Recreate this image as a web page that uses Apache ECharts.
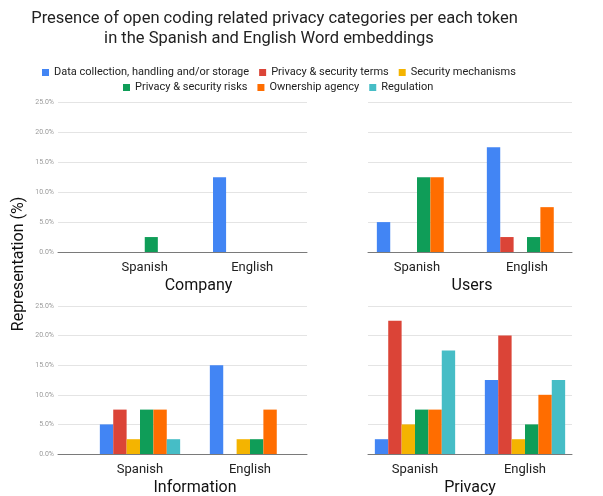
<!DOCTYPE html>
<html>
<head>
<meta charset="utf-8">
<script src="https://cdn.jsdelivr.net/npm/echarts@6/dist/echarts.min.js"></script>
<style>html,body{margin:0;padding:0;background:#fff}#c{width:603px;height:496px}</style>
</head>
<body>
<div id="c"></div>
<script>
const titleLines = ['Presence of open coding related privacy categories per each token', 'in the Spanish and English Word embeddings'];
const categories = ['Spanish', 'English'];
const panelNames = ['Company', 'Users', 'Information', 'Privacy'];
const seriesNames = ['Data collection, handling and/or storage', 'Privacy & security terms', 'Security mechanisms', 'Privacy & security risks', 'Ownership agency', 'Regulation'];
const seriesColors = ['#4285F4', '#DB4437', '#F4B400', '#0F9D58', '#FF6D00', '#46BDC6'];
const yTicks = [0, 5, 10, 15, 20, 25];
// values per series: [Spanish, English]
const companyValues = [[0, 12.5], [0, 0], [0, 0], [2.5, 0], [0, 0], [0, 0]];
const usersValues = [[5, 17.5], [0, 2.5], [0, 0], [12.5, 2.5], [12.5, 7.5], [0, 0]];
const informationValues = [[5, 15], [7.5, 0], [2.5, 2.5], [7.5, 2.5], [7.5, 7.5], [2.5, 0]];
const privacyValues = [[2.5, 12.5], [22.5, 20], [5, 2.5], [7.5, 5], [7.5, 10], [17.5, 12.5]];
const panelValues = [companyValues, usersValues, informationValues, privacyValues];

const FONT = 'Roboto';
const bgGrids = [
  {left: 58, top: 102.5, width: 249, height: 149.5},
  {left: 368, top: 102.5, width: 204, height: 149.5},
  {left: 58, top: 306, width: 249, height: 148},
  {left: 368, top: 306, width: 204, height: 148}
];
const dataGrids = [
  {left: 91, top: 102.5, width: 215, height: 149.5},
  {left: 362, top: 102.5, width: 220, height: 149.5},
  {left: 85, top: 306, width: 220, height: 148},
  {left: 360, top: 306, width: 220, height: 148}
];
const allGrids = bgGrids.concat(dataGrids).map(g => Object.assign({outerBoundsMode: 'none', containLabel: false}, g));
const xAxes = [], yAxes = [], series = [];
bgGrids.forEach((g, i) => {
  xAxes.push({type: 'category', gridIndex: i, data: [''], axisLine: {show: true, lineStyle: {color: '#7a7a7a', width: 1}}, axisTick: {show: false}, axisLabel: {show: false}, splitLine: {show: false}, z: 3});
  yAxes.push({type: 'value', gridIndex: i, min: yTicks[0], max: yTicks[yTicks.length - 1], interval: 5,
    axisLine: {show: false}, axisTick: {show: false},
    axisLabel: {show: i % 2 === 0, fontSize: 7, color: '#9a9a9a', margin: 4, fontFamily: FONT, formatter: v => v.toFixed(1) + '%'},
    splitLine: {show: true, lineStyle: {color: '#e4e4e4', width: 1}}});
});
dataGrids.forEach((g, p) => {
  const gi = p + 4;
  xAxes.push({type: 'category', gridIndex: gi, data: categories, axisLine: {show: false}, axisTick: {show: false},
    axisLabel: {fontSize: 13, color: '#222', margin: 9, fontFamily: FONT},
    name: panelNames[p], nameLocation: 'middle', nameGap: 26, nameTextStyle: {fontSize: 16, color: '#111', fontFamily: FONT}});
  yAxes.push({type: 'value', gridIndex: gi, min: 0, max: 25, show: false, splitLine: {show: false}});
  seriesNames.forEach((name, s) => {
    series.push({type: 'bar', name: name, xAxisIndex: gi, yAxisIndex: gi, data: panelValues[p][s],
      itemStyle: {color: seriesColors[s]}, barGap: '0%', barCategoryGap: '27%', z: 2});
  });
});
const legendCommon = {icon: 'rect', itemWidth: 7, itemHeight: 7, itemGap: 10, padding: 0, selectedMode: false,
  textStyle: {fontSize: 11, color: '#222', fontFamily: FONT}};
const titleStyle = {fontSize: 16.5, fontWeight: 'normal', color: '#222', fontFamily: FONT};
const option = {
  animation: false,
  textStyle: {fontFamily: FONT},
  color: seriesColors,
  title: [
    {text: titleLines[0], left: 274.5, top: 10, textAlign: 'center', padding: 0, textStyle: titleStyle},
    {text: titleLines[1], left: 269, top: 30, textAlign: 'center', padding: 0, textStyle: titleStyle}
  ],
  legend: [
    Object.assign({}, legendCommon, {data: seriesNames.slice(0, 3), left: 42, top: 67}),
    Object.assign({}, legendCommon, {data: seriesNames.slice(3), left: 123, top: 82})
  ],
  grid: allGrids,
  xAxis: xAxes,
  yAxis: yAxes,
  series: series,
  graphic: [{type: 'text', x: 18.5, y: 264, rotation: Math.PI / 2,
    style: {text: 'Representation (%)', fontSize: 16, fill: '#111', fontFamily: FONT, align: 'center', verticalAlign: 'middle'}}]
};
const chart = echarts.init(document.getElementById('c'), null, {renderer: 'canvas'});
chart.setOption(option);
</script>
</body>
</html>
